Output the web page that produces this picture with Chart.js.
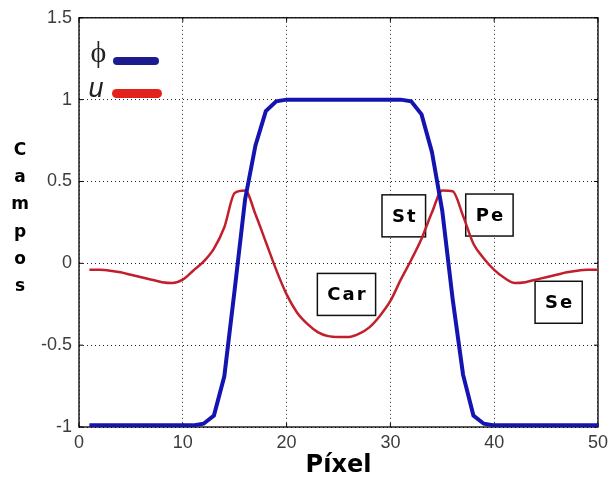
<!DOCTYPE html>
<html>
<head>
<meta charset="utf-8">
<script src="https://cdn.jsdelivr.net/npm/chart.js@4.4.1/dist/chart.umd.min.js"></script>
<style>
  html, body { margin: 0; padding: 0; background: #ffffff; }
  canvas { display: block; }
</style>
</head>
<body>
<canvas id="chart" width="613" height="483"></canvas>
<script>
// Pixel index along the profile
const pixelIdx = [1, 2, 3, 4, 5, 6, 7, 8, 9, 10,
                  11, 12, 13, 14, 15, 16, 17, 18, 19, 20,
                  21, 22, 23, 24, 25, 26, 27, 28, 29, 30,
                  31, 32, 33, 34, 35, 36, 37, 38, 39, 40,
                  41, 42, 43, 44, 45, 46, 47, 48, 49, 50];

// Phase field phi
const phi = [-0.99, -0.99, -0.99, -0.99, -0.99, -0.99, -0.99, -0.99, -0.99, -0.99,
             -0.99, -0.98, -0.93, -0.69, -0.16, 0.39, 0.72, 0.93, 0.99, 1.0,
             1.0, 1.0, 1.0, 1.0, 1.0, 1.0, 1.0, 1.0, 1.0, 1.0,
             1.0, 0.99, 0.91, 0.68, 0.32, -0.22, -0.68, -0.93, -0.98, -0.99,
             -0.99, -0.99, -0.99, -0.99, -0.99, -0.99, -0.99, -0.99, -0.99, -0.99];

// Field u
const u = [-0.04, -0.04, -0.045, -0.055, -0.07, -0.085, -0.10, -0.115, -0.12, -0.10,
           -0.045, 0.01, 0.09, 0.22, 0.43, 0.445, 0.30, 0.13, -0.04, -0.19,
           -0.30, -0.37, -0.42, -0.445, -0.45, -0.45, -0.43, -0.39, -0.32, -0.23,
           -0.10, 0.02, 0.15, 0.31, 0.445, 0.44, 0.29, 0.12, 0.03, -0.04,
           -0.09, -0.12, -0.115, -0.10, -0.085, -0.07, -0.055, -0.045, -0.04, -0.04];

// Axis ticks
const xTickValues = [0, 10, 20, 30, 40, 50];
const yTickValues = [-1, -0.5, 0, 0.5, 1, 1.5];

// Region labels (centre in data coordinates)
const regionNames = ['Car', 'St', 'Pe', 'Se'];
const regionX = [25.77, 31.29, 39.54, 46.21];
const regionY = [-0.19, 0.29, 0.295, -0.238];

const xTitle = 'Píxel';
const yTitle = 'Campos';
const seriesSymbols = ['\u03D5', 'u'];

const BLUE = '#1414b0';
const RED = '#c21f2c';

// Frame, inward ticks and region boxes drawn under the curves
const underlayPlugin = {
  id: 'underlay',
  beforeDatasetsDraw(chart) {
    const { ctx, chartArea: a } = chart;
    const xs = chart.scales.x, ys = chart.scales.y;
    ctx.save();

    // region boxes
    ctx.font = 'bold 18px "DejaVu Sans"';
    ctx.letterSpacing = '2px';
    ctx.textAlign = 'center';
    ctx.textBaseline = 'middle';
    regionNames.forEach((name, i) => {
      const cx = xs.getPixelForValue(regionX[i]);
      const cy = ys.getPixelForValue(regionY[i]);
      const w = ctx.measureText(name).width + 18;
      const h = 42;
      ctx.fillStyle = '#ffffff';
      ctx.fillRect(cx - w / 2, cy - h / 2, w, h);
      ctx.strokeStyle = '#111';
      ctx.lineWidth = 1.5;
      ctx.strokeRect(cx - w / 2, cy - h / 2, w, h);
      ctx.fillStyle = '#000';
      ctx.fillText(name, cx + 1, cy + 1);
    });
    ctx.letterSpacing = '0px';

    // frame
    ctx.strokeStyle = '#000';
    ctx.lineWidth = 1.3;
    ctx.strokeRect(a.left, a.top, a.right - a.left, a.bottom - a.top);

    // inward tick marks
    ctx.lineWidth = 1;
    const t = 4;
    xTickValues.forEach(v => {
      const px = xs.getPixelForValue(v);
      ctx.beginPath();
      ctx.moveTo(px, a.bottom); ctx.lineTo(px, a.bottom - t);
      ctx.moveTo(px, a.top); ctx.lineTo(px, a.top + t);
      ctx.stroke();
    });
    yTickValues.forEach(v => {
      const py = ys.getPixelForValue(v);
      ctx.beginPath();
      ctx.moveTo(a.left, py); ctx.lineTo(a.left + t, py);
      ctx.moveTo(a.right, py); ctx.lineTo(a.right - t, py);
      ctx.stroke();
    });
    ctx.restore();
  },
  afterDraw(chart) {
    const { ctx } = chart;
    ctx.save();

    // series key
    ctx.textAlign = 'center';
    ctx.textBaseline = 'alphabetic';
    ctx.fillStyle = '#222';
    ctx.font = '30px "Liberation Serif"';
    ctx.fillText(seriesSymbols[0], 98.5, 62);
    ctx.font = 'italic 27px "Liberation Sans"';
    ctx.fillText(seriesSymbols[1], 96, 97);

    ctx.lineCap = 'round';
    ctx.strokeStyle = '#1c1c8e';
    ctx.lineWidth = 8;
    ctx.beginPath(); ctx.moveTo(117, 61); ctx.lineTo(155, 61); ctx.stroke();
    ctx.strokeStyle = '#e3221e';
    ctx.lineWidth = 9;
    ctx.beginPath(); ctx.moveTo(116.5, 93.5); ctx.lineTo(157.5, 93.5); ctx.stroke();

    // stacked y-axis title
    ctx.fillStyle = '#000';
    ctx.font = 'bold 17px "DejaVu Sans"';
    ctx.textAlign = 'center';
    [...yTitle].forEach((ch, i) => {
      ctx.fillText(ch, 20, 155 + i * 27.2);
    });
    ctx.restore();
  }
};

const ctx = document.getElementById('chart').getContext('2d');
new Chart(ctx, {
  type: 'line',
  data: {
    datasets: [
      {
        label: '\u03D5',
        data: pixelIdx.map((x, i) => ({ x, y: phi[i] })),
        borderColor: BLUE,
        borderWidth: 4,
        pointRadius: 0,
        tension: 0,
        order: 0
      },
      {
        label: 'u',
        data: pixelIdx.map((x, i) => ({ x, y: u[i] })),
        borderColor: RED,
        borderWidth: 2.5,
        pointRadius: 0,
        cubicInterpolationMode: 'monotone',
        order: 1
      }
    ]
  },
  options: {
    responsive: false,
    animation: false,
    devicePixelRatio: 1,
    layout: { padding: { left: 0, top: 15, right: 13, bottom: 0 } },
    plugins: {
      legend: { display: false },
      tooltip: { enabled: false }
    },
    scales: {
      x: {
        type: 'linear',
        min: 0,
        max: 50,
        afterBuildTicks: s => { s.ticks = xTickValues.map(v => ({ value: v })); },
        afterFit: s => { s.height = 56; },
        ticks: {
          color: '#3c3c3c',
          font: { family: 'Liberation Sans', size: 18 },
          padding: 5,
          maxRotation: 0,
          callback: v => String(v)
        },
        grid: { color: 'rgba(0,0,0,0.85)', lineWidth: 1, drawTicks: false },
        border: { display: false, dash: [1, 3] },
        title: {
          display: true,
          text: xTitle,
          color: '#000',
          font: { family: 'DejaVu Sans', size: 24, weight: 'bold' },
          padding: { top: 0, bottom: 3 }
        }
      },
      y: {
        type: 'linear',
        min: -1,
        max: 1.5,
        afterBuildTicks: s => { s.ticks = yTickValues.map(v => ({ value: v })); },
        afterFit: s => { s.width = 79; },
        ticks: {
          color: '#3c3c3c',
          font: { family: 'Liberation Sans', size: 18 },
          padding: 7,
          callback: v => String(v)
        },
        grid: { color: 'rgba(0,0,0,0.85)', lineWidth: 1, drawTicks: false },
        border: { display: false, dash: [1, 3] }
      }
    }
  },
  plugins: [underlayPlugin]
});
</script>
</body>
</html>
